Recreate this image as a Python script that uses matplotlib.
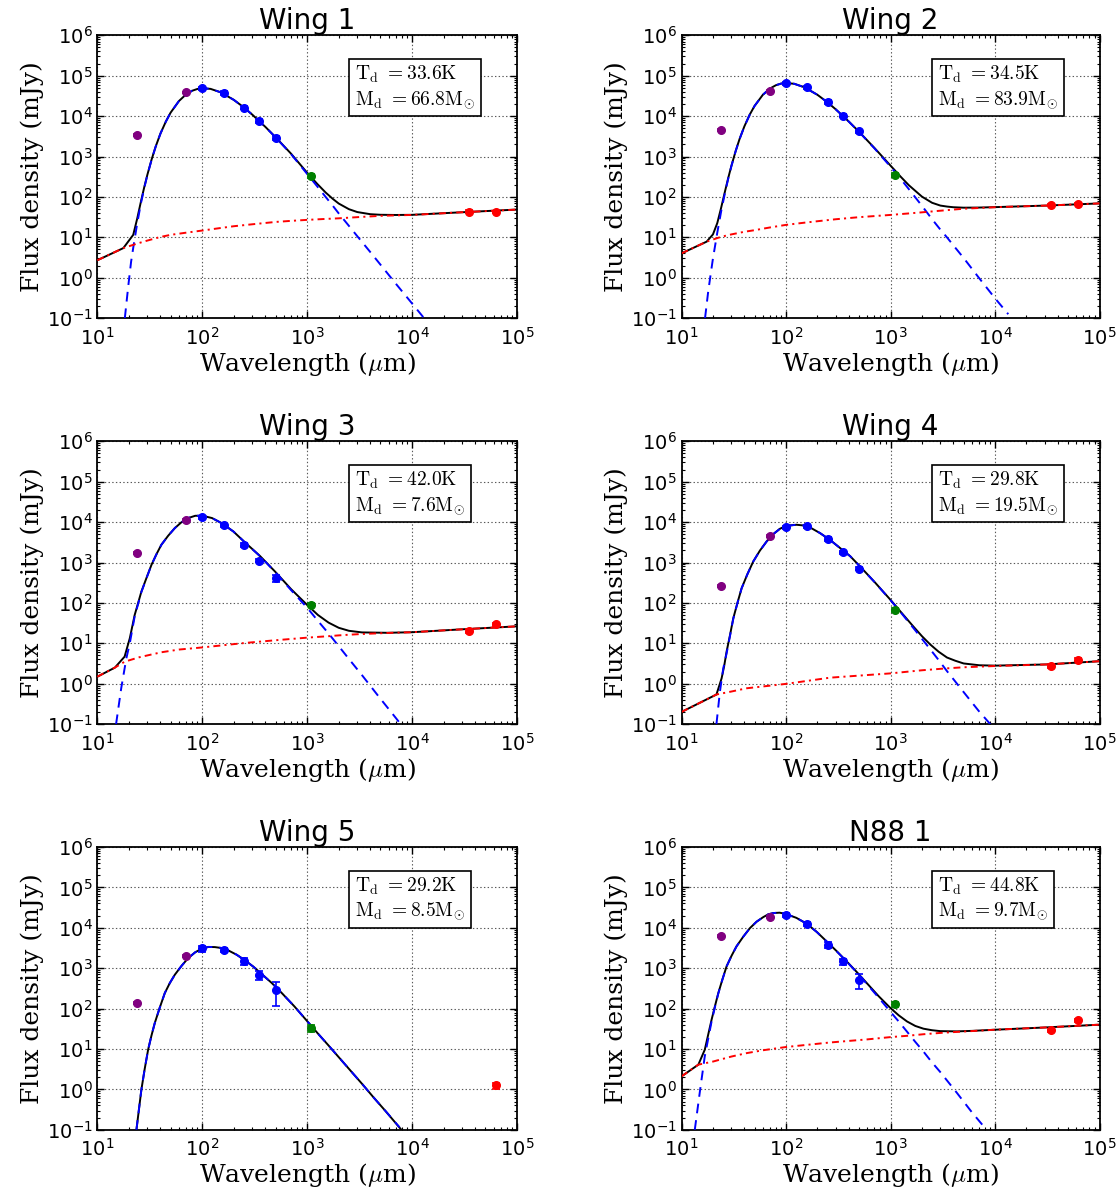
import numpy as np
import matplotlib
matplotlib.use("Agg")
import matplotlib.pyplot as plt

plt.rcParams["font.family"] = ["DejaVu Sans"]
plt.rcParams["mathtext.fontset"] = "cm"
plt.rcParams["lines.scale_dashes"] = False

# ---------------- data ----------------
titles = ["Wing 1", "Wing 2", "Wing 3", "Wing 4", "Wing 5", "N88 1"]
temps = ["33.6", "34.5", "42.0", "29.8", "29.2", "44.8"]
masses = ["66.8", "83.9", "7.6", "19.5", "8.5", "9.7"]

lam_mips = [24, 70]
lam_her = [100, 160, 250, 350, 500]
lam_mm = [1100]

f_mips = [[3410, 38700], [4450, 41700], [1700, 11200],
          [259, 4580], [137, 2040], [6360, 18800]]
f_her = [[48600, 38000, 16200, 7590, 2930],
         [64800, 51400, 22700, 10240, 4200],
         [13100, 8260, 2740, 1120, 409],
         [7380, 7820, 3860, 1770, 710],
         [3090, 2860, 1470, 689, 282],
         [20600, 12400, 3810, 1470, 519]]
e_her = [[4900, 3800, 1600, 760, 300],
         [6500, 5100, 2300, 1000, 420],
         [1300, 830, 270, 110, 80],
         [740, 780, 390, 180, 70],
         [550, 330, 300, 175, 166],
         [2100, 1300, 600, 250, 220]]
f_mm = [331, 349, 91, 67, 33, 127]
e_mm = [33, 35, 9, 7, 6, 15]

lam_rad = [[34700, 62500], [34700, 62500], [34700, 62500],
           [34700, 62500], [62500], [34700, 62500]]
f_rad = [[43.3, 43.0], [62, 67], [20.2, 29.6], [2.74, 3.94], [1.26], [28.8, 51]]
e_rad = [[3, 3], [4, 5], [2, 2.5], [0.25, 0.35], [0.22], [2.5, 4]]

# total model (black solid)
tot_lam = [
    [10, 17.7, 22, 24, 26, 28, 30, 33, 36, 40, 45, 50, 60, 70, 80, 90, 100, 120,
     150, 200, 250, 300, 400, 500, 700, 1000, 1250, 1500, 1750, 2000, 2500, 3000,
     4000, 5000, 7000, 10000, 30000, 100000],
    [10, 17.4, 20, 22, 24, 26, 28, 30, 33, 36, 40, 45, 50, 60, 70, 80, 90, 100,
     120, 150, 200, 250, 300, 400, 500, 700, 1000, 1250, 1500, 2000, 2500, 3000,
     3500, 4000, 5000, 7000, 10000, 31000, 100000],
    [10, 14.7, 18.2, 20.4, 22.7, 24.4, 26.3, 29.4, 32.8, 36.6, 40.8, 47.3, 54.8,
     63.5, 73.5, 85.7, 100, 124, 153, 198, 256, 356, 494, 703, 1000, 1265, 1600,
     2000, 2500, 3330, 5770, 10000, 30000, 100000],
    [10, 21.6, 24.2, 25.6, 27, 29.1, 31.3, 34.3, 37.6, 42.7, 48.6, 56.3, 65.3,
     75.6, 87.5, 97.7, 109, 126, 146, 176, 212, 264, 330, 411, 512, 715, 1000,
     1288, 1660, 2000, 2400, 2886, 3470, 4169, 5010, 7080, 10000, 31500, 100000],
    [23.6, 26.3, 28.3, 30.5, 32.8, 35.3, 39.4, 44, 49.1, 54.8, 63.5, 73.5, 85.7,
     100, 115, 132, 153, 177, 213, 256, 307, 369, 460, 573, 757, 1000, 1265,
     1600, 2308, 3330, 4302, 5560, 7910],
    [10, 14.5, 16.7, 19.4, 20.9, 22.5, 24.65, 27, 30.1, 33.6, 39, 45.2, 52.3,
     60.6, 67.7, 75.7, 87, 100, 125.7, 158, 197, 245, 305.5, 381, 475, 593, 770,
     1000, 1200, 1440, 1727, 2070, 2488, 2990, 4320, 6020, 10000, 31500, 100000],
]
tot_flux = [
    [2.7, 5.4, 11.5, 29, 75, 173, 353, 859, 1760, 3710, 7310, 12210, 23610,
     34310, 42310, 47010, 48900, 47220, 38820, 25220, 16320, 10870, 5400, 3000,
     1186, 397, 209, 128.5, 90, 68.5, 49.7, 42.2, 37.3, 36.1, 35.7, 36.0, 41.7,
     48.6],
    [4.0, 7.8, 11.8, 22.5, 55, 133, 294, 583, 1372, 2743, 5604, 10914, 17815,
     33616, 47918, 58119, 63920, 66020, 63022, 51723, 33625, 21826, 14628, 7290,
     4092, 1640, 596, 317, 194, 101.5, 71.5, 61, 57.5, 55.5, 54.1, 54.5, 55.8,
     61, 69],
    [1.49, 2.5, 4.67, 13.3, 50, 96, 190, 412, 870, 1600, 2750, 4580, 7100, 9950,
     12600, 14330, 14400, 12600, 9440, 5870, 3130, 1440, 598, 219, 89, 50.4,
     32.5, 24.2, 20.4, 18.6, 18.2, 18.8, 22.2, 26.3],
    [0.2, 0.54, 1.36, 2.73, 6.2, 15.8, 41.5, 100, 230, 512, 1060, 1973, 3320,
     5056, 6840, 7867, 8270, 8600, 8270, 7003, 5330, 3613, 2270, 1435, 795, 315,
     119, 55.3, 25.8, 15, 9.35, 6.2, 4.45, 3.7, 3.17, 2.86, 2.8, 3.0, 3.6],
    [0.1, 0.98, 3.22, 9.6, 21.3, 43.9, 106, 243, 429, 689, 1142, 1780, 2476,
     3090, 3360, 3330, 3157, 2760, 2153, 1560, 1091, 716, 430, 243, 113, 49,
     24.2, 12.2, 4.1, 1.38, 0.63, 0.295, 0.1],
    [2.1, 4.1, 9.6, 53, 115, 242, 531, 1110, 2022, 3470, 6034, 9840, 14160,
     18400, 21570, 23200, 23670, 21900, 17630, 12600, 7900, 4600, 2638, 1470,
     807, 428, 203, 103, 68, 48, 37.2, 31.8, 29.2, 27.7, 27.3, 28.1, 30, 34.3,
     40],
]

# dust greybody (blue dashed)
dust_lam = [
    [18.3, 19.7, 21, 22, 24, 26, 28, 30, 33, 36, 40, 45, 50, 60, 70, 80, 90, 100,
     120, 150, 200, 250, 300, 400, 500, 700, 1000, 1250, 1500, 1750, 2000, 2500,
     3000, 4000, 5000, 7000, 10000, 13000],
    [16.8, 18, 19, 20, 22, 24, 26, 28, 30, 33, 36, 40, 45, 50, 60, 70, 80, 90,
     100, 120, 150, 200, 250, 300, 400, 500, 700, 1000, 1250, 1500, 2000, 2500,
     3000, 3500, 4000, 5000, 7000, 10000, 13400],
    [15.1, 16.9, 18.9, 20.4, 22.7, 24.4, 26.3, 29.4, 32.8, 36.6, 40.8, 47.3,
     54.8, 63.5, 73.5, 85.7, 100, 124, 153, 198, 256, 356, 494, 703, 1000, 1265,
     1600, 2000, 2500, 3330, 4810, 7190, 7600],
    [21.6, 23.3, 25.1, 27, 29.1, 31.3, 34.3, 37.6, 42.7, 48.6, 56.3, 65.3, 75.6,
     87.5, 97.7, 109, 126, 146, 176, 212, 264, 330, 411, 512, 715, 1000, 1288,
     1660, 2000, 2400, 2886, 3470, 4169, 5010, 6970, 9000],
    [23.6, 26.3, 28.3, 30.5, 32.8, 35.3, 39.4, 44, 49.1, 54.8, 63.5, 73.5, 85.7,
     100, 115, 132, 153, 177, 213, 256, 307, 369, 460, 573, 757, 1000, 1265,
     1600, 2308, 3330, 4302, 5560, 7600],
    [13.4, 15, 16.7, 19.4, 20.9, 22.5, 24.65, 27, 30.1, 33.6, 39, 45.2, 52.3,
     60.6, 67.7, 75.7, 87, 100, 125.7, 158, 197, 245, 305.5, 381, 475, 593, 770,
     1000, 1200, 1440, 1727, 2070, 2488, 2990, 4320, 6020, 8300],
]
dust_flux = [
    [0.1, 0.6, 2.5, 5.5, 22, 68, 165, 345, 850, 1750, 3700, 7300, 12200, 23600,
     34300, 42300, 47000, 48900, 47200, 38800, 25200, 16300, 10850, 5380, 2980,
     1160, 370, 181, 100, 61, 39, 19.2, 10.7, 4.3, 2.1, 0.71, 0.23, 0.1],
    [0.1, 0.45, 1.2, 3.0, 13, 45, 122, 283, 571, 1360, 2730, 5590, 10900, 17800,
     33600, 47900, 58100, 63900, 66000, 63000, 51700, 33600, 21800, 14600, 7260,
     4060, 1606, 560, 280, 155, 60, 28, 15.5, 9.7, 6.3, 3.1, 1.0, 0.31, 0.125],
    [0.1, 0.77, 4.2, 10, 46, 91, 185, 407, 865, 1594, 2744, 4573, 7093, 9943,
     12593, 14322, 14392, 12591, 9430, 5860, 3120, 1428, 586, 207, 76, 36, 17.5,
     8.5, 4.1, 1.63, 0.48, 0.13, 0.108],
    [0.1, 0.63, 2.4, 5.6, 15.1, 40.8, 99, 229, 511, 1059, 1972, 3319, 5055,
     6839, 7866, 8269, 8599, 8269, 7002, 5329, 3612, 2269, 1433, 794, 313, 117,
     53.4, 23.7, 12.9, 7.1, 3.86, 2.05, 1.13, 0.62, 0.213, 0.1],
    [0.1, 0.98, 3.22, 9.6, 21.3, 43.9, 106, 243, 429, 689, 1142, 1780, 2476,
     3090, 3360, 3330, 3157, 2760, 2153, 1560, 1091, 716, 430, 243, 113, 49,
     24.2, 12.2, 4.1, 1.38, 0.63, 0.295, 0.115],
    [0.1, 0.89, 6.6, 48, 110, 237, 526, 1105, 2016, 3464, 6027, 9832, 14152,
     18391, 21560, 23190, 23660, 21890, 17618, 12587, 7887, 4586, 2622, 1455,
     790, 410, 187, 83, 47.8, 26.8, 15, 8.6, 4.7, 2.7, 0.82, 0.27, 0.1],
]

# radio continuum (red dash-dot)
rad_lam = [
    [10, 17.7, 20, 24, 30, 40, 50, 70, 100, 150, 200, 300, 500, 700, 1000, 1500,
     2000, 3000, 5000, 10000, 30000, 100000],
    [10, 17.4, 20, 24, 30, 40, 50, 70, 100, 150, 200, 300, 500, 700, 1000, 1500,
     2000, 3000, 5000, 10000, 31000, 100000],
    [10, 14.7, 18.2, 25, 40.8, 60, 100, 256, 500, 1000, 1265, 1600, 2000, 2500,
     3330, 5770, 10000, 30000, 100000],
    [10, 21.6, 30, 42, 100, 264, 1000, 2000, 3470, 5010, 10000, 31500, 100000],
    [],
    [10, 14.5, 20.1, 30, 42, 60, 100, 264, 600, 1000, 1440, 2070, 2990, 4320,
     6020, 10000, 31500, 100000],
]
rad_flux = [
    [2.7, 5.4, 6.0, 7.0, 8.3, 10.2, 11.5, 13.0, 14.7, 17, 18.8, 21, 24, 25.5, 27,
     28.5, 29.5, 31.5, 34, 35.8, 41.7, 48.6],
    [4.0, 7.8, 8.8, 10.3, 11.8, 13.7, 15, 17.5, 20.3, 23, 25, 28, 31.5, 33.5,
     35.8, 39, 41.5, 45.5, 51, 55.5, 61, 69],
    [1.49, 2.5, 3.5, 4.5, 6.0, 7.0, 7.9, 10.2, 11.9, 13.8, 14.4, 15.0, 15.7,
     16.3, 17.0, 18.0, 18.8, 22.2, 26.3],
    [0.2, 0.54, 0.64, 0.77, 0.99, 1.41, 1.8, 2.15, 2.4, 2.55, 2.74, 3.0, 3.6],
    [],
    [2.1, 4.1, 4.9, 6.5, 7.9, 9.3, 11.2, 14.5, 17.3, 19.7, 21.2, 23.2, 25.0,
     26.5, 27.8, 30, 34.3, 40],
]

# ---------------- figure ----------------
W, H = 1118, 1198
fig = plt.figure(figsize=(W / 100, H / 100), dpi=100)

col_left = [97.3, 681.5]
col_width = [419.7, 418.0]
row_top = [35.3, 441.3, 847.0]
row_height = 282.8

PURPLE = "#800080"
GREEN = "#008000"

for i in range(6):
    r, c = divmod(i, 2)
    ax = fig.add_axes([col_left[c] / W, 1 - (row_top[r] + row_height) / H,
                       col_width[c] / W, row_height / H])
    ax.set_xscale("log")
    ax.set_yscale("log")

    ax.plot(tot_lam[i], tot_flux[i], color="k", lw=1.4, zorder=2)
    ax.plot(dust_lam[i], dust_flux[i], color="b", lw=1.4, dashes=(7, 5), zorder=3)
    if len(rad_lam[i]):
        ax.plot(rad_lam[i], rad_flux[i], color="r", lw=1.4,
                dashes=(5, 3, 1.5, 3), zorder=3)

    ekw = dict(fmt="o", ms=5.5, capsize=3, elinewidth=1.2, capthick=1.2, zorder=4)
    ax.errorbar(lam_mips, f_mips[i], yerr=[0.05 * v for v in f_mips[i]],
                color=PURPLE, mec=PURPLE, **ekw)
    ax.errorbar(lam_her, f_her[i], yerr=e_her[i], color="b", mec="b", **ekw)
    ax.errorbar(lam_mm, [f_mm[i]], yerr=[e_mm[i]], color=GREEN, mec=GREEN, **ekw)
    ax.errorbar(lam_rad[i], f_rad[i], yerr=e_rad[i], color="r", mec="r", **ekw)

    ax.set_xlim(10, 1e5)
    ax.set_ylim(0.1, 1e6)
    ax.grid(True, which="major", color="0.35", linestyle=":", lw=0.8)
    ax.tick_params(which="both", direction="in", top=True, right=True,
                   labelsize=14)
    ax.tick_params(axis="x", which="major", pad=6)
    ax.tick_params(which="major", length=5, width=1)
    ax.tick_params(which="minor", length=2.5, width=0.8)
    for s in ax.spines.values():
        s.set_linewidth(1.3)

    ax.set_title(titles[i], fontsize=20, pad=4)
    ax.set_xlabel(r"Wavelength ($\mu$m)", fontsize=18, family="DejaVu Serif",
                  labelpad=1)
    ax.set_ylabel("Flux density (mJy)", fontsize=18, family="DejaVu Serif",
                  labelpad=2)

    txt = (r"$\mathrm{T_d\ =%sK}$" % temps[i]) + "\n" + \
          (r"$\mathrm{M_d\ =%sM_{\odot}}$" % masses[i])
    ax.text(0.613, 0.816, txt, transform=ax.transAxes, ha="left", va="center",
            fontsize=14, linespacing=1.25,
            bbox=dict(boxstyle="square,pad=0.3", fc="white", ec="k", lw=1.2),
            zorder=5)

fig.savefig("out.png", dpi=100)
